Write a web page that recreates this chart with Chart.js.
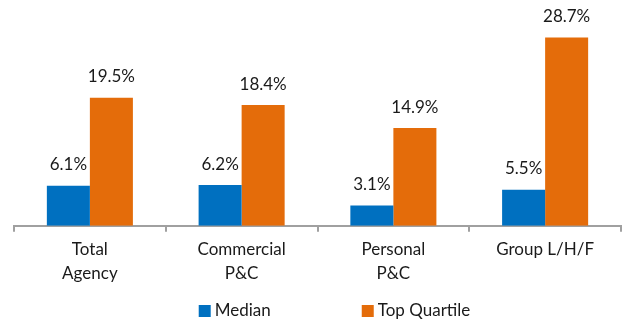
<!DOCTYPE html>
<html>
<head>
<meta charset="utf-8">
<script src="https://cdn.jsdelivr.net/npm/chart.js@4.4.1/dist/chart.umd.min.js"></script>
<style>
  html, body { margin: 0; padding: 0; background: #ffffff; }
  #wrap { width: 625px; height: 323px; position: relative; }
</style>
</head>
<body>
<div id="wrap"><canvas id="chart"></canvas></div>
<script>
// Segment names (multi-line labels under the axis)
const categories = [
  ['Total', 'Agency'],
  ['Commercial', 'P&C'],
  ['Personal', 'P&C'],
  'Group L/H/F'
];
// Growth rates, in percent
const medianValues = [6.1, 6.2, 3.1, 5.5];
const topQuartileValues = [19.5, 18.4, 14.9, 28.7];
const seriesNames = ['Median', 'Top Quartile'];

const FONT = 'Lato, "Open Sans", sans-serif';
const TEXT = '#1a1a1a';
const SIZE = 17;

// Percent labels above every bar
const valueLabels = {
  id: 'valueLabels',
  afterDatasetsDraw(chart) {
    const ctx = chart.ctx;
    ctx.save();
    ctx.font = SIZE + 'px ' + FONT;
    ctx.fillStyle = TEXT;
    ctx.textAlign = 'center';
    ctx.textBaseline = 'middle';
    chart.data.datasets.forEach((ds, i) => {
      chart.getDatasetMeta(i).data.forEach((bar, j) => {
        ctx.fillText(ds.data[j].toFixed(1) + '%', bar.x, bar.y - 21);
      });
    });
    ctx.restore();
  }
};

// Legend row along the bottom edge
const bottomLegend = {
  id: 'bottomLegend',
  afterDraw(chart) {
    const ctx = chart.ctx;
    ctx.save();
    ctx.font = SIZE + 'px ' + FONT;
    ctx.textBaseline = 'middle';
    const box = 12, gap = 4, itemGap = 91;
    const items = chart.data.datasets.map(ds => ({
      label: ds.label, color: ds.backgroundColor,
      w: box + gap + ctx.measureText(ds.label).width
    }));
    const total = items.reduce((s, it) => s + it.w, 0) + itemGap * (items.length - 1);
    const ca = chart.chartArea;
    let x = (ca.left + ca.right) / 2 - total / 2 + 17;
    const cy = chart.height - 12;
    items.forEach(it => {
      ctx.fillStyle = it.color;
      ctx.fillRect(x, cy - box / 2, box, box);
      ctx.fillStyle = TEXT;
      ctx.fillText(it.label, x + box + gap, cy);
      x += it.w + itemGap;
    });
    ctx.restore();
  }
};

new Chart(document.getElementById('chart'), {
  type: 'bar',
  data: {
    labels: categories,
    datasets: [
      { label: seriesNames[0], data: medianValues, backgroundColor: '#0070C0' },
      { label: seriesNames[1], data: topQuartileValues, backgroundColor: '#E46C0A' }
    ]
  },
  options: {
    responsive: true,
    maintainAspectRatio: false,
    animation: false,
    layout: { padding: { top: 29, left: 14, right: 4, bottom: 31 } },
    datasets: { bar: { categoryPercentage: 0.567, barPercentage: 1.0 } },
    plugins: {
      legend: { display: false },
      tooltip: { enabled: false }
    },
    scales: {
      x: {
        offset: true,
        grid: {
          display: true,
          offset: true,
          drawOnChartArea: false,
          drawTicks: true,
          tickLength: 6,
          color: '#A0A0A0',
          lineWidth: 2
        },
        border: { display: true, color: '#A0A0A0', width: 2 },
        ticks: {
          color: TEXT,
          padding: 6,
          maxRotation: 0,
          font: { family: FONT, size: SIZE, lineHeight: 1.42 }
        }
      },
      y: {
        display: false,
        min: 0,
        max: 30
      }
    }
  },
  plugins: [valueLabels, bottomLegend]
});
</script>
</body>
</html>
